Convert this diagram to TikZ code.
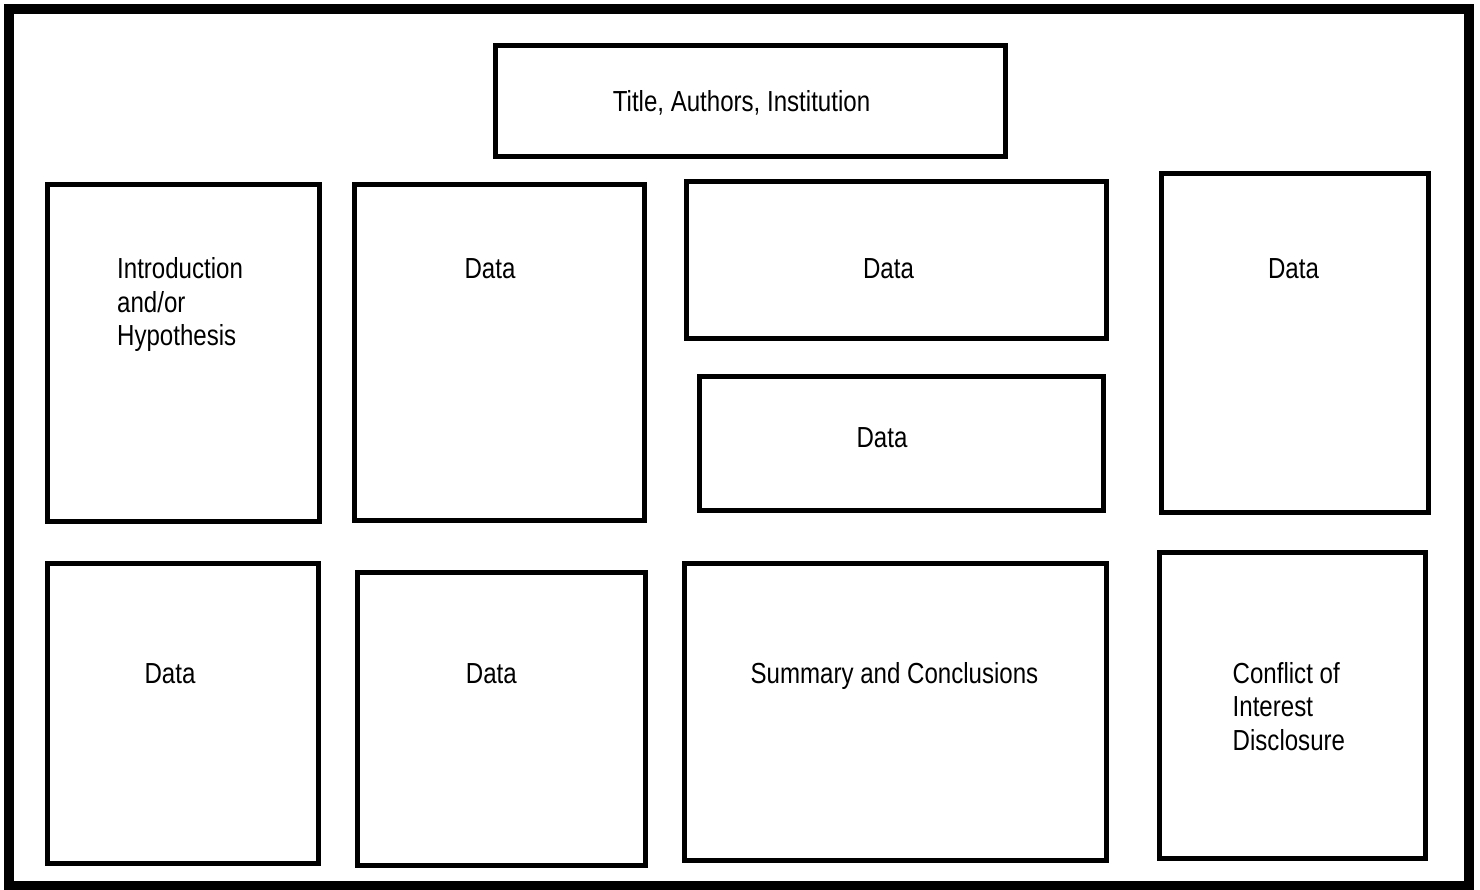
\documentclass[tikz,border=0pt]{standalone}
\usepackage{fontspec}
\setmainfont{Liberation Sans}[FakeStretch=0.83]
\begin{document}
\begin{tikzpicture}[x=1pt,y=-1pt,
  panel/.style={draw=black,line width=5pt,fill=white,rectangle,inner sep=0pt},
  frame/.style={draw=black,line width=9.5pt},
  lbl/.style={inner sep=0pt,font=\fontsize{29}{33.5}\selectfont,text=black}]
\useasboundingbox (0,0) rectangle (1480,890);
\fill[white] (0,0) rectangle (1480,890);
\draw[frame] (9,9) rectangle (1469,885.5);
% panels
\node[panel,minimum width=510pt,minimum height=111pt] (title) at (750.5,101) {};
\node[panel,minimum width=272pt,minimum height=337pt] (intro) at (183.5,353) {};
\node[panel,minimum width=290pt,minimum height=336pt] (d2top) at (499.5,352.5) {};
\node[panel,minimum width=420pt,minimum height=157pt] (d3top) at (896.5,260) {};
\node[panel,minimum width=404pt,minimum height=134pt] (d3mid) at (901.5,443.5) {};
\node[panel,minimum width=267pt,minimum height=339pt] (d4top) at (1295,343) {};
\node[panel,minimum width=271pt,minimum height=300pt] (d1bot) at (183,713.5) {};
\node[panel,minimum width=288pt,minimum height=293pt] (d2bot) at (501.5,719) {};
\node[panel,minimum width=422pt,minimum height=297pt] (summ) at (895.5,712) {};
\node[panel,minimum width=266pt,minimum height=306pt] (coi) at (1292.5,705.5) {};
% labels
\node[lbl,anchor=base] (ttitle) at (741.5,112) {Title, Authors, Institution};
\node[lbl,anchor=base west] (tintro1) at (117,279) {Introduction};
\node[lbl,anchor=base west] (tintro2) at (117,312.5) {and/or};
\node[lbl,anchor=base west] (tintro3) at (117,346) {Hypothesis};
\node[lbl,anchor=base] (td2top) at (490,279) {Data};
\node[lbl,anchor=base] (td3top) at (888.5,279) {Data};
\node[lbl,anchor=base] (td3mid) at (882,447) {Data};
\node[lbl,anchor=base] (td4top) at (1293.5,279) {Data};
\node[lbl,anchor=base] (td1bot) at (170,683) {Data};
\node[lbl,anchor=base] (td2bot) at (491.3,683) {Data};
\node[lbl,anchor=base] (tsumm) at (894.5,683) {Summary and Conclusions};
\node[lbl,anchor=base west] (tcoi1) at (1232.5,683) {Conflict of};
\node[lbl,anchor=base west] (tcoi2) at (1232.5,716.5) {Interest};
\node[lbl,anchor=base west] (tcoi3) at (1232.5,750) {Disclosure};
\end{tikzpicture}
\end{document}
